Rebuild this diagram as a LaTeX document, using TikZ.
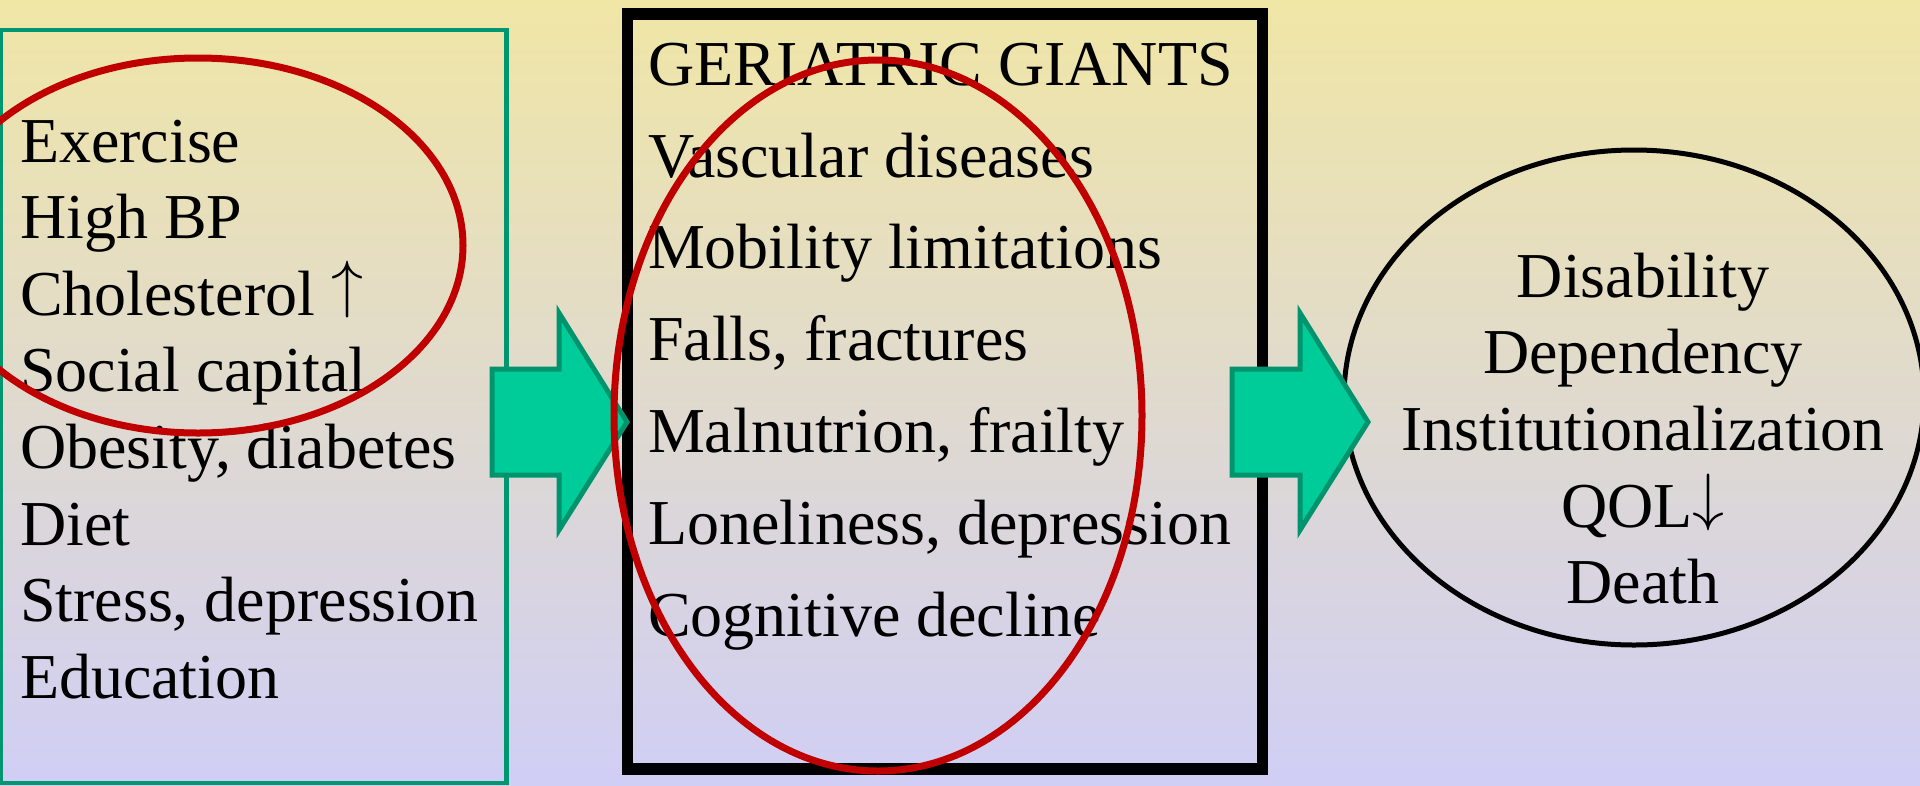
\documentclass[tikz,border=0pt]{standalone}
\usepackage{graphicx}
\usepackage{fontspec}
\setmainfont{Liberation Serif}
\usetikzlibrary{shapes.geometric}
\definecolor{bgtop}{RGB}{240,230,166}
\definecolor{bgbot}{RGB}{208,206,245}
\definecolor{boxgreen}{RGB}{0,150,112}
\definecolor{arrowfill}{RGB}{0,204,153}
\definecolor{arrowline}{RGB}{0,148,110}
\definecolor{ringred}{RGB}{192,0,0}
\newcommand{\uparr}{\raisebox{10pt}{\scalebox{6.4}{\fontsize{10}{12}\selectfont$\uparrow$}}}
\newcommand{\downarr}{\raisebox{9pt}{\scalebox{6.4}{\fontsize{10}{12}\selectfont$\downarrow$}}}
\tikzset{
  every node/.style={font=\fontsize{64}{76}\selectfont, inner sep=0pt, outer sep=0pt},
  txt/.style={anchor=base west},
  ctxt/.style={anchor=base},
  greenbox/.style={draw=boxgreen, line width=4.5pt, rectangle},
  blackbox/.style={draw=black, line width=11.5pt, rectangle},
  outring/.style={draw=black, line width=5pt, ellipse},
  blockarrow/.style={draw=arrowline, fill=arrowfill, line width=5pt, line join=miter},
  redring/.style={draw=ringred, line width=7pt}
}
\begin{document}
\begin{tikzpicture}[x=1pt,y=-1pt]
\useasboundingbox (0,0) rectangle (1920,785);
\clip (0,0) rectangle (1920,785);
\shade[top color=bgtop, bottom color=bgbot] (0,0) rectangle (1920,785);

% left box
\node[greenbox, minimum width=505.5pt, minimum height=753pt] (lbox) at (253.75,406.5) {};
% middle box
\node[blackbox, minimum width=635pt, minimum height=755pt] (mbox) at (945,391.5) {};
% right ellipse
\node[outring, minimum width=580pt, minimum height=495pt] (rell) at (1634,397.5) {};

% left texts
\foreach \t/\y [count=\i] in {Exercise/162, High BP/238, Cholesterol \uparr/315, Social capital/391, {Obesity, diabetes}/468, Diet/545, {Stress, depression}/621, Education/698}
  \node[txt] (l\i) at (20,\y) {\t};

% middle texts
\foreach \t/\y [count=\i] in {GERIATRIC GIANTS/85, Vascular diseases/177, Mobility limitations/268, {Falls, fractures}/360, {Malnutrion, frailty}/452, {Loneliness, depression}/544, Cognitive decline/636}
  \node[txt] (m\i) at (648,\y) {\t};

% right texts
\foreach \t/\y [count=\i] in {Disability/297, Dependency/373, Institutionalization/450, QOL\downarr/527, Death/603}
  \node[ctxt] (r\i) at (1643,\y) {\t};

% block arrows
\coordinate (a1) at (492,369);
\coordinate (a2) at (1232,369);
\draw[blockarrow] (a1) -- (559,369) -- (559,313) -- (627,422) -- (559,530) -- (559,475) -- (492,475) -- cycle;
\draw[blockarrow] (a2) -- (1300,369) -- (1300,313) -- (1368,422) -- (1300,530) -- (1300,475) -- (1232,475) -- cycle;

% red rings
\draw[redring] (198,245.5) ellipse [x radius=265pt, y radius=187.5pt];
\draw[redring] (878,415.5) ellipse [x radius=264pt, y radius=355.5pt];
\end{tikzpicture}
\end{document}
